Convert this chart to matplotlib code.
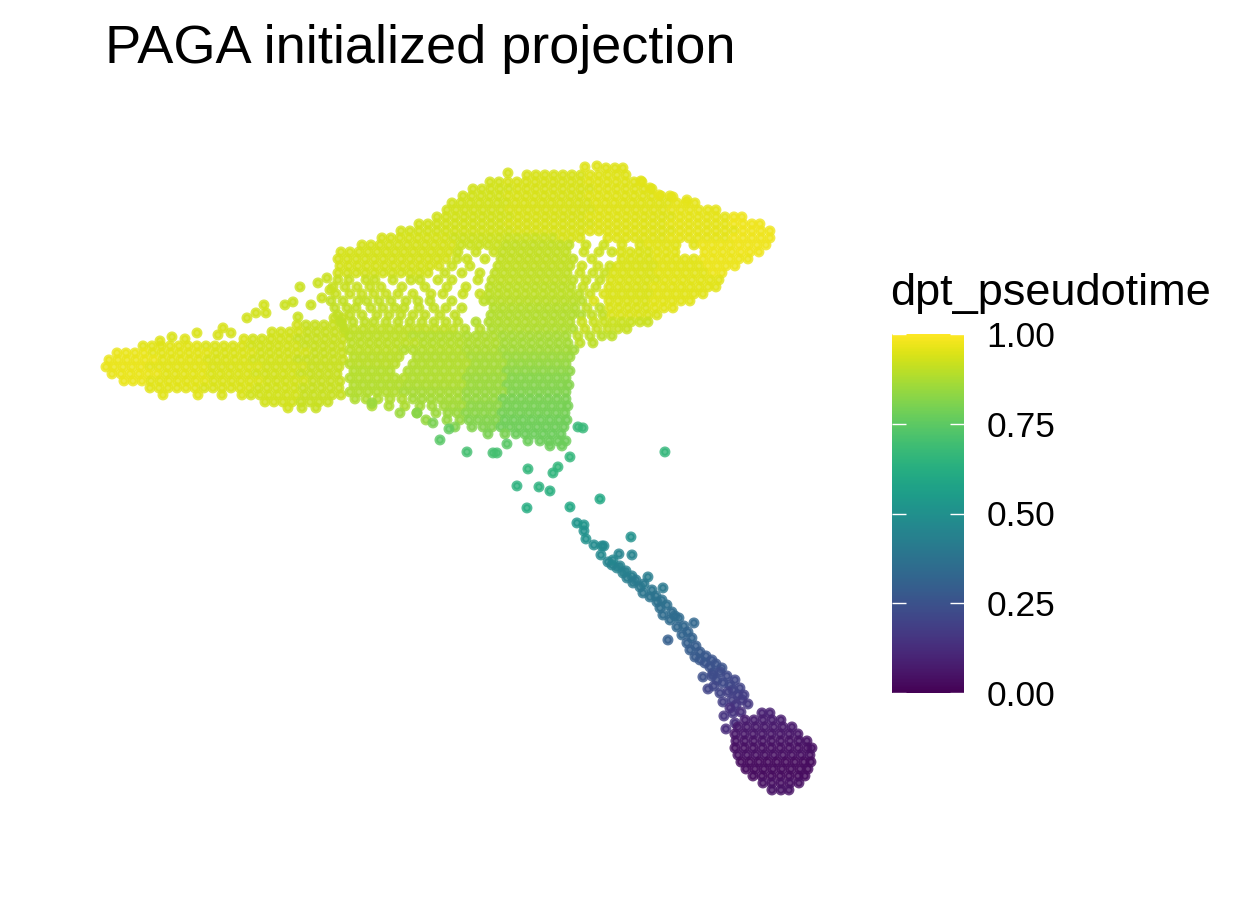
import matplotlib
matplotlib.use("Agg")
import matplotlib.pyplot as plt
import numpy as np
from matplotlib.colors import Normalize
from matplotlib.cm import ScalarMappable

plt.rcParams['font.family'] = ['Liberation Sans', 'DejaVu Sans']

TITLE = "PAGA initialized projection"
LEGEND_TITLE = "dpt_pseudotime"
CBAR_TICKS = [0.00, 0.25, 0.50, 0.75, 1.00]
CBAR_LABELS = ["0.00", "0.25", "0.50", "0.75", "1.00"]

# Cells, grouped in rows: (UMAP_2, dpt_pseudotime, [UMAP_1 ...])
arm_rows = [
    (-318, .915, [334, 343]),
    (-325, .93, [297]),
    (-325, .915, [306, 315, 324, 333, 342]),
    (-332, .93, [272, 281, 290, 299]),
    (-332, .915, [308, 317, 326, 335, 344]),
    (-339, .945, [244]),
    (-339, .93, [253, 262, 271, 280, 289]),
    (-339, .915, [298, 307, 316, 325, 334, 343]),
    (-346, .955, [143, 152, 161, 170, 179, 188, 197]),
    (-346, .945, [206, 215, 224, 233, 242]),
    (-346, .93, [251, 260, 269, 278, 287, 296]),
    (-346, .915, [305, 314, 323, 332, 341]),
    (-353, .965, [117, 126, 135, 144]),
    (-353, .955, [153, 162, 171, 180, 189, 198, 207]),
    (-353, .945, [216, 225, 234, 243, 252]),
    (-353, .93, [261, 270, 279, 288, 297, 306]),
    (-353, .915, [315, 324, 333, 342]),
    (-360, .965, [109, 118, 127, 136, 145, 154]),
    (-360, .955, [163, 172, 181, 190, 199]),
    (-360, .945, [208, 217, 226, 235, 244]),
    (-360, .93, [253, 262, 271, 280, 289]),
    (-360, .915, [298, 307, 316, 325, 334, 343]),
    (-367, .965, [106, 114, 123, 132, 141]),
    (-367, .955, [150, 159, 168, 177, 186, 195, 204]),
    (-367, .945, [213, 222, 231, 240, 249, 258]),
    (-367, .93, [267, 276, 285, 294, 303]),
    (-367, .915, [312, 321, 330, 339]),
    (-374, .965, [112, 121, 130, 139, 148, 157]),
    (-374, .955, [166, 175, 184, 193, 202]),
    (-374, .945, [211, 220, 229, 238, 247]),
    (-374, .93, [256, 265, 274, 283, 292]),
    (-374, .915, [301, 310, 319, 328, 337]),
    (-381, .965, [124, 133, 142]),
    (-381, .955, [151, 160, 169, 178, 187, 196, 205]),
    (-381, .945, [214, 223, 232, 241, 250, 259]),
    (-381, .93, [268, 277, 286, 295, 304]),
    (-381, .915, [313, 322, 331, 340]),
    (-388, .955, [150, 159, 168, 177, 186, 195]),
    (-388, .945, [204, 213, 222, 231, 240, 249]),
    (-388, .93, [258, 267, 276, 285, 294]),
    (-388, .915, [303, 312, 321, 330, 339]),
    (-395, .955, [163, 198]),
    (-395, .945, [222, 242]),
    (-395, .93, [251, 260, 269, 278, 287, 296]),
    (-395, .915, [305, 314, 323, 332, 341]),
    (-402, .93, [265, 274, 283, 292]),
    (-402, .915, [301, 310, 319, 328]),
    (-408, .93, [288]),
    (-408, .915, [302, 316]),
]

arm_sparse_u1 = [172, 197, 218, 223, 231, 247, 256, 264, 266, 285, 293, 300, 298, 311, 318, 160, 185, 322, 330, 327]
arm_sparse_u2 = [-337, -333, -335, -328, -333, -318, -313, -305, -313, -305, -302, -287, -317, -305, -283, -341, -339, -298, -290, -278]
arm_sparse_t = [.945, .945, .94, .94, .935, .93, .93, .93, .93, .92, .92, .92, .92, .92, .92, .95, .95, .92, .92, .92]

fan_rows = [
    (-168, .95, [606, 615, 623]),
    (-175, .94, [527, 536, 545, 554, 563, 572, 581]),
    (-175, .95, [590, 599, 608, 617, 626]),
    (-182, .93, [490, 499]),
    (-182, .94, [508, 517, 526, 535, 544, 553, 562, 571, 580]),
    (-182, .95, [589, 598, 607, 616, 625, 634, 642]),
    (-189, .93, [473, 482, 491, 500, 509]),
    (-189, .94, [518, 527, 536, 545, 554, 563, 572, 581, 590]),
    (-189, .95, [599, 608, 617, 626, 635, 644, 652]),
    (-196, .93, [463, 472, 481, 490, 499]),
    (-196, .94, [508, 517, 526, 535, 544, 553, 562, 571, 580]),
    (-196, .95, [589, 598, 607, 616, 625, 634, 643, 652, 661]),
    (-196, .96, [670]),
    (-203, .93, [452, 461, 470, 479, 488, 497, 506]),
    (-203, .94, [515, 524, 533, 542, 551, 560, 569, 578, 587]),
    (-203, .95, [596, 605, 614, 623, 632, 641, 650, 659, 668]),
    (-203, .96, [677, 686, 695]),
    (-210, .93, [447, 456, 465, 474, 483, 492, 501]),
    (-210, .94, [510, 519, 528, 537, 546, 555, 564, 573, 582, 591]),
    (-210, .95, [600, 609, 618, 627, 636, 645, 654, 663]),
    (-210, .96, [672, 681, 690, 699, 708, 716]),
    (-217, .93, [437, 446, 455, 464, 473, 482, 491, 500, 509]),
    (-217, .94, [518, 527, 536, 545, 554, 563, 572, 581]),
    (-217, .95, [590, 599, 608, 617, 626, 635, 644, 653, 662, 671]),
    (-217, .96, [680, 689, 698, 707, 716, 725]),
    (-217, .975, [734, 742]),
    (-224, .93, [419, 428, 437, 446, 455, 464, 473, 482, 491, 500]),
    (-224, .94, [509, 518, 527, 536, 545, 554, 563, 572, 581, 590]),
    (-224, .95, [599, 608, 617, 626, 635, 644, 653, 662]),
    (-224, .96, [671, 680, 689, 698, 707, 716, 725]),
    (-224, .975, [734, 743, 752, 760]),
    (-231, .93, [401, 410, 419, 428, 437, 446, 455, 464, 473, 482, 491, 500, 509]),
    (-231, .94, [518, 527, 536, 545, 554, 563, 572, 581]),
    (-231, .95, [590, 599, 608, 617, 626, 635, 644, 653, 662, 671]),
    (-231, .96, [680, 689, 698, 707, 716, 725, 734]),
    (-231, .975, [743, 752, 761, 770]),
    (-238, .935, [382, 391, 400, 409, 418, 427, 436, 445]),
    (-238, .925, [454, 463, 472, 481, 490, 499]),
    (-238, .92, [508, 517, 526, 535, 544, 553]),
    (-238, .94, [562, 571, 580]),
    (-238, .95, [608, 617, 626, 635, 644, 653, 662]),
    (-238, .96, [671, 680, 689, 698, 707, 716, 725]),
    (-238, .975, [734, 743, 752, 761, 770]),
    (-245, .935, [362, 371, 380, 389, 398, 407, 416, 425, 434, 443, 452]),
    (-245, .92, [461, 470, 479, 488, 497]),
    (-245, .91, [506, 515, 524, 533, 542, 551, 560, 569]),
    (-245, .925, [586, 604]),
    (-245, .945, [622, 640]),
    (-245, .955, [649, 658, 667, 676, 694]),
    (-245, .97, [703, 712, 721, 730]),
    (-245, .975, [739, 748, 757, 766]),
    (-252, .935, [341, 350, 359, 368, 377, 386, 395, 404, 413, 422, 431, 440, 449]),
    (-252, .92, [458, 476, 494]),
    (-252, .91, [503, 512, 521, 530, 539, 548, 557, 566]),
    (-252, .925, [584, 599, 612]),
    (-252, .945, [621, 630, 639, 648]),
    (-252, .955, [657, 666, 675]),
    (-252, .97, [705, 714, 723, 732]),
    (-252, .975, [741, 750, 759]),
    (-259, .935, [338, 347, 356, 365, 374, 383, 392, 401, 410, 419, 428, 437, 446]),
    (-259, .92, [457, 467, 485]),
    (-259, .91, [501, 510, 519, 528, 537, 546, 555, 564, 573]),
    (-259, .925, [592]),
    (-259, .945, [622, 631, 640, 649]),
    (-259, .955, [658, 667, 676, 685, 694]),
    (-259, .97, [703, 712, 721, 730, 739, 748]),
    (-266, .935, [340, 349, 358, 367, 376, 385, 394, 403, 412, 421, 430, 439]),
    (-266, .92, [452, 470]),
    (-266, .91, [498, 507, 516, 525, 534, 543, 552, 561, 570]),
    (-266, .925, [582, 598, 610]),
    (-266, .945, [618, 627, 636, 645, 654]),
    (-266, .955, [663, 672, 681, 690, 699]),
    (-266, .97, [708, 717, 726, 735]),
    (-273, .93, [338, 347, 356, 365, 374, 383, 392, 401, 410, 419, 428]),
    (-273, .915, [445, 462, 480]),
    (-273, .905, [495, 504, 513, 522, 531, 540, 549, 558, 567]),
    (-273, .92, [580, 593, 605]),
    (-273, .945, [614, 623, 632, 641, 650]),
    (-273, .955, [659, 668, 677, 686, 695, 704]),
    (-273, .97, [713, 722]),
    (-280, .915, [338, 349, 366, 375, 393, 411, 420, 438, 452, 478]),
    (-280, .905, [492, 501, 510, 519, 528, 537, 546, 555, 564, 573]),
    (-280, .915, [586, 600]),
    (-280, .945, [611, 620, 629, 638, 647, 656]),
    (-280, .955, [665, 674, 683, 692, 701, 710, 719]),
    (-287, .915, [333, 345, 357, 370, 381, 402, 425, 447, 466]),
    (-287, .90, [490, 499, 508, 517, 526, 535, 544, 553, 562, 571]),
    (-287, .915, [583, 596]),
    (-287, .945, [609, 618, 627, 636, 645]),
    (-287, .955, [654, 663, 672, 681, 690, 699, 708, 716]),
    (-294, .915, [336, 350, 362, 374, 386, 398, 413, 431, 443, 463, 480]),
    (-294, .90, [489, 498, 507, 516, 525, 534, 543, 552, 561, 570, 579]),
    (-294, .92, [590]),
    (-294, .945, [604, 613, 622, 631, 640, 649]),
    (-294, .955, [658, 667, 676, 685, 694, 703]),
    (-301, .91, [331, 343, 358, 367, 379, 391, 406, 418, 430, 452]),
    (-301, .90, [484]),
    (-301, .895, [492, 501, 510, 519, 528, 537, 546, 555, 564, 573, 582]),
    (-301, .945, [594, 609, 618, 627, 636, 645]),
    (-301, .955, [654, 663, 672, 681, 690]),
    (-308, .91, [335, 347, 356, 371, 383, 395, 404, 419, 434, 446, 462]),
    (-308, .89, [494, 503, 512, 521, 530, 539, 548, 557, 566, 575]),
    (-308, .91, [587, 600]),
    (-308, .945, [610, 619, 628, 637, 646]),
    (-308, .955, [655, 664, 673]),
    (-315, .91, [338, 350, 362, 377, 389, 401, 413, 425, 440, 455]),
    (-315, .885, [491, 500, 509, 518, 527, 536, 545, 554, 563, 572, 581]),
    (-315, .91, [592, 603]),
    (-315, .945, [612, 621, 630, 639, 648, 657]),
    (-322, .905, [341, 353, 365, 374, 386, 398, 410, 422, 434, 446, 458]),
    (-322, .885, [476, 489, 498, 507, 516, 525, 534, 543, 552, 561, 570]),
    (-322, .92, [582, 594, 604, 613, 622, 631, 640, 648]),
    (-329, .905, [345, 354, 363, 372, 381, 390, 399, 408, 417, 426, 435, 444, 453]),
    (-329, .895, [465, 480]),
    (-329, .88, [492, 501, 510, 519, 528, 537, 546, 555, 564, 573]),
    (-329, .915, [585, 597, 608, 618, 627]),
    (-336, .90, [350, 359, 368, 377, 386, 395, 404]),
    (-336, .89, [413, 422, 431, 440, 449, 458]),
    (-336, .88, [467, 476, 485, 494]),
    (-336, .87, [503, 512, 521, 530, 539, 548, 557, 566]),
    (-336, .90, [578, 590, 602, 612]),
    (-343, .90, [352, 361, 370, 379, 388, 397, 406, 415]),
    (-343, .89, [424, 433, 442, 451, 460]),
    (-343, .88, [469, 478, 487, 496]),
    (-343, .865, [505, 514, 523, 532, 541, 550, 559, 568]),
    (-343, .90, [580, 593]),
    (-350, .90, [350, 359, 368, 377, 386, 395]),
    (-350, .89, [404, 413, 422, 431, 440, 449, 458]),
    (-350, .875, [467, 476, 485, 494]),
    (-350, .86, [503, 512, 521, 530, 539, 548, 557, 566, 574]),
    (-357, .895, [354, 363, 372, 381, 390, 399]),
    (-357, .885, [417, 426, 435, 444, 453, 462]),
    (-357, .87, [471, 480, 489, 498]),
    (-357, .85, [507, 516, 525, 534, 543, 552, 561, 570]),
    (-364, .895, [350, 359, 368, 377, 386, 395]),
    (-364, .885, [413, 422, 431, 440, 449, 458, 467]),
    (-364, .865, [476, 485, 494, 503]),
    (-364, .84, [512, 521, 530, 539, 548, 557, 566]),
    (-371, .89, [354, 363, 372, 381, 390]),
    (-371, .88, [408, 417, 426, 435, 444, 453, 462]),
    (-371, .86, [471, 480, 489, 498]),
    (-371, .83, [507, 516, 525, 534, 543, 552, 561, 570]),
    (-378, .89, [350, 359, 368, 377, 386, 395, 404]),
    (-378, .88, [413, 422, 431, 440, 449, 458]),
    (-378, .855, [467, 476, 485, 494, 503]),
    (-378, .82, [512, 521, 530, 539, 548, 557, 566]),
    (-385, .885, [354, 363, 372, 381, 390, 399]),
    (-385, .875, [408, 417, 426, 435, 444, 453, 462]),
    (-385, .85, [471, 480, 489, 498]),
    (-385, .815, [507, 516, 525, 534, 543, 552, 561, 569]),
    (-392, .885, [350, 359, 368, 377, 386, 395]),
    (-392, .87, [404, 413, 422, 431, 440, 449, 458]),
    (-392, .845, [467, 476, 485, 494, 503]),
    (-392, .81, [512, 521, 530, 539, 548, 557, 566]),
    (-399, .88, [355, 366, 378, 390, 402]),
    (-399, .865, [413, 422, 431, 440, 449, 458]),
    (-399, .84, [467, 476, 485, 494]),
    (-399, .80, [503, 512, 521, 530, 539, 548, 557, 566]),
    (-406, .875, [372, 389, 405]),
    (-406, .86, [420, 432, 444, 453, 462]),
    (-406, .83, [471, 480, 489, 498]),
    (-406, .795, [507, 516, 525, 534, 543, 552, 561, 568]),
    (-413, .85, [400, 417, 436, 448, 457]),
    (-413, .825, [466, 475, 484, 493]),
    (-413, .79, [502, 511, 520, 529, 538, 547, 556, 565]),
    (-420, .84, [426, 447, 460]),
    (-420, .815, [469, 478, 487, 496]),
    (-420, .785, [505, 514, 523, 532, 541, 550, 559, 567]),
    (-427, .81, [455, 472, 483, 492]),
    (-427, .78, [501, 510, 519, 528, 537, 546, 555, 564]),
    (-434, .80, [488, 505]),
    (-434, .775, [516, 525, 534, 543, 552, 561]),
    (-441, .775, [528, 540, 549, 558, 566]),
    (-446, .775, [550, 562]),
]

fan_sparse_u1 = [585, 597, 641, 650, 659, 673, 687, 508]
fan_sparse_u2 = [-167, -166, -181, -188, -195, -197, -200, -173]
fan_sparse_t = [.95, .95, .955, .955, .96, .96, .96, .935]

# Scattered cells between the fan and the stalk
bridge_u1 = [440, 449, 467, 493, 497, 507, 578, 583, 570, 558, 553, 528, 517, 539, 550, 527, 570, 600, 665, 433, 417, 372]
bridge_u2 = [-440, -429, -452, -453, -453, -444, -427, -428, -457, -467, -473, -469, -486, -487, -491, -508, -507, -499, -452, -423, -413, -403]
bridge_t = [.74, .76, .70, .70, .70, .74, .67, .67, .66, .66, .65, .66, .64, .64, .63, .62, .60, .60, .66, .80, .82, .85]

# Stalk leading to the root
stalk_u1 = [577, 584, 584, 586, 594, 602, 604, 601, 619, 631, 632, 608, 612, 617, 623, 627, 632, 633, 640,
            648, 643, 650, 657, 663, 667, 660, 663, 670, 679, 694, 677, 682, 668, 687, 690, 695, 700, 705,
            710, 703, 713, 722, 717, 723, 730, 708, 733, 738, 720, 723, 732, 742, 724, 733, 726, 735,
            613, 620, 626, 636, 644, 652, 656, 662, 672, 675, 684, 688, 692, 696, 700, 706, 712, 716,
            720, 727, 712, 735, 740, 728, 744, 714, 736, 748, 730, 741]
stalk_u2 = [-523, -525, -531, -539, -545, -546, -546, -555, -554, -537, -555, -562, -565, -568, -573, -578, -576, -583, -587,
            -577, -593, -597, -602, -588, -605, -608, -615, -620, -618, -623, -627, -635, -640, -643, -650, -657, -660, -663,
            -667, -677, -673, -668, -680, -683, -685, -689, -690, -695, -693, -702, -700, -700, -716, -713, -729, -723,
            -560, -566, -571, -580, -584, -590, -596, -600, -612, -616, -626, -632, -638, -646, -652, -656, -660, -664,
            -672, -676, -676, -680, -688, -692, -695, -686, -705, -704, -708, -712]
stalk_t = [.52, .52, .50, .50, .48, .48, .47, .47, .45, .50, .45, .45, .44, .44, .43, .42, .42, .41, .40,
           .42, .39, .38, .37, .40, .36, .36, .35, .34, .34, .33, .33, .32, .30, .30, .29, .28, .27, .26,
           .25, .24, .24, .25, .23, .22, .22, .20, .20, .19, .20, .18, .18, .17, .15, .15, .12, .13,
           .46, .44, .43, .41, .40, .39, .38, .37, .35, .35, .33, .32, .31, .29, .28, .27, .26, .25,
           .23, .22, .23, .21, .20, .19, .18, .21, .16, .16, .14, .13]

root_rows = [
    (-713, .09, [762, 770]),
    (-720, .08, [745, 754, 763, 772, 781]),
    (-727, .07, [738, 747, 756, 765, 774, 783, 792]),
    (-734, .06, [735, 744, 753, 762, 771, 780, 789, 798]),
    (-741, .05, [736, 745, 754, 763, 772, 781, 790, 799, 807]),
    (-748, .04, [735, 744, 753, 762, 771, 780, 789, 798, 807, 812]),
    (-755, .04, [738, 747, 756, 765, 774, 783, 792, 801, 810]),
    (-762, .03, [741, 750, 759, 768, 777, 786, 795, 804, 811]),
    (-769, .03, [746, 755, 764, 773, 782, 791, 800, 808]),
    (-776, .03, [753, 762, 771, 780, 789, 798, 805]),
    (-783, .04, [763, 772, 781, 790, 799]),
    (-790, .05, [772, 781, 789]),
]


def unpack(rows):
    u1, u2, t = [], [], []
    for y, tv, xs in rows:
        for x in xs:
            u1.append(x)
            u2.append(y)
            t.append(tv)
    return u1, u2, t


a1, a2, at = unpack(arm_rows)
f1, f2, ft = unpack(fan_rows)
r1, r2, rt = unpack(root_rows)

umap1 = np.array(a1 + arm_sparse_u1 + f1 + fan_sparse_u1 + bridge_u1 + stalk_u1 + r1, dtype=float)
umap2 = np.array(a2 + arm_sparse_u2 + f2 + fan_sparse_u2 + bridge_u2 + stalk_u2 + r2, dtype=float)
pseudotime = np.array(at + arm_sparse_t + ft + fan_sparse_t + bridge_t + stalk_t + rt, dtype=float)

fig = plt.figure(figsize=(12.6, 9), dpi=100)
fig.patch.set_facecolor("white")

ax = fig.add_axes([0.0561, 0.0876, 0.6163, 0.7627])
norm = Normalize(vmin=0, vmax=1)
ax.scatter(umap1, umap2, c=pseudotime, cmap="viridis", norm=norm, s=28,
           linewidths=2.6, edgecolors="face", alpha=0.8)

xr = umap1.max() - umap1.min()
yr = umap2.max() - umap2.min()
ax.set_xlim(umap1.min() - 0.05 * xr, umap1.max() + 0.05 * xr)
ax.set_ylim(umap2.min() - 0.05 * yr, umap2.max() + 0.05 * yr)
ax.set_axis_off()

fig.text(105 / 1260, 1 - 63 / 900, TITLE, fontsize=39, ha="left", va="baseline")

# Colour bar legend
cax = fig.add_axes([892 / 1260, 1 - 693 / 900, 72 / 1260, 359 / 900])
sm = ScalarMappable(norm=norm, cmap="viridis")
cb = fig.colorbar(sm, cax=cax, ticks=CBAR_TICKS)
cb.outline.set_visible(False)
cb.ax.set_yticklabels(CBAR_LABELS)
cax.tick_params(axis="y", which="major", left=True, right=True, labelleft=False, labelright=True,
                direction="in", length=10, width=1.0, color="white", labelcolor="black",
                labelsize=25.5, pad=16)
cax.tick_params(axis="y", which="minor", left=False, right=False)
fig.text(890 / 1260, 1 - 305 / 900, LEGEND_TITLE, fontsize=32.5, ha="left", va="baseline")

fig.savefig("out.png", dpi=100, facecolor="white")
